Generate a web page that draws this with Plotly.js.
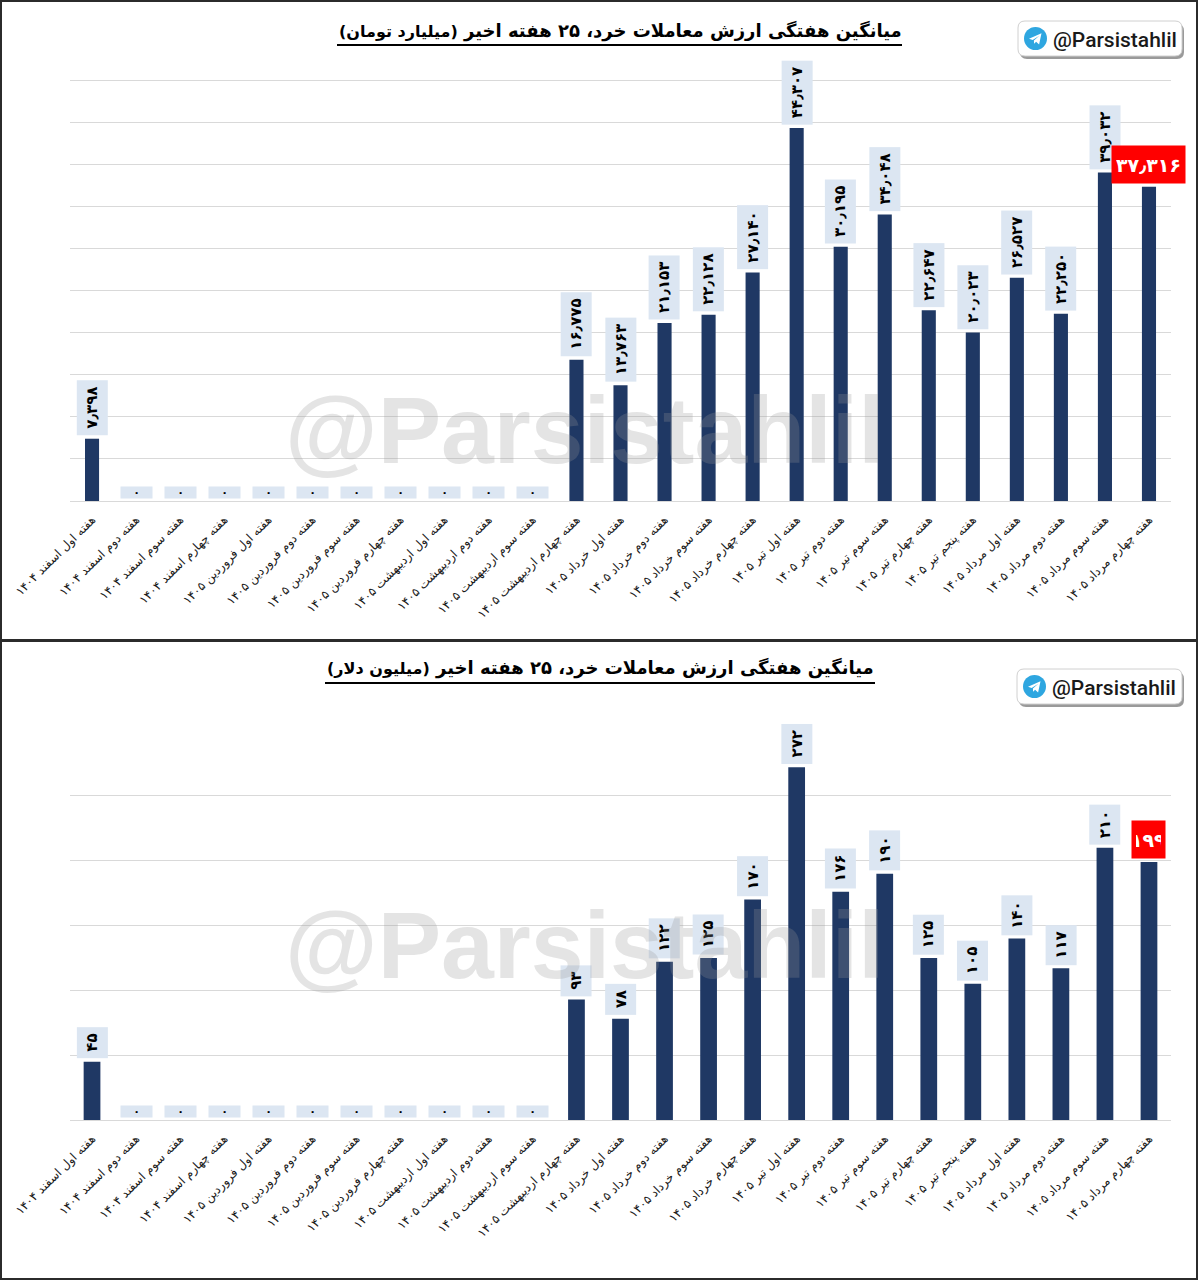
<!DOCTYPE html>
<html>
<head>
<meta charset="utf-8">
<script src="https://cdn.plot.ly/plotly-3.0.1.min.js"></script>
<style>
  html, body { margin: 0; padding: 0; background: #ffffff; }
  #chart { width: 1198px; height: 1280px; }
</style>
</head>
<body>
<div id="chart"></div>
<script>
// ---------------- DATA ----------------
var categories = [
  "هفته اول اسفند ۱۴۰۴",
  "هفته دوم اسفند ۱۴۰۴",
  "هفته سوم اسفند ۱۴۰۴",
  "هفته چهارم اسفند ۱۴۰۴",
  "هفته اول فروردین ۱۴۰۵",
  "هفته دوم فروردین ۱۴۰۵",
  "هفته سوم فروردین ۱۴۰۵",
  "هفته چهارم فروردین ۱۴۰۵",
  "هفته اول اردیبهشت ۱۴۰۵",
  "هفته دوم اردیبهشت ۱۴۰۵",
  "هفته سوم اردیبهشت ۱۴۰۵",
  "هفته چهارم اردیبهشت ۱۴۰۵",
  "هفته اول خرداد ۱۴۰۵",
  "هفته دوم خرداد ۱۴۰۵",
  "هفته سوم خرداد ۱۴۰۵",
  "هفته چهارم خرداد ۱۴۰۵",
  "هفته اول تیر ۱۴۰۵",
  "هفته دوم تیر ۱۴۰۵",
  "هفته سوم تیر ۱۴۰۵",
  "هفته چهارم تیر ۱۴۰۵",
  "هفته پنجم تیر ۱۴۰۵",
  "هفته اول مرداد ۱۴۰۵",
  "هفته دوم مرداد ۱۴۰۵",
  "هفته سوم مرداد ۱۴۰۵",
  "هفته چهارم مرداد ۱۴۰۵"
];

// weekly average value, billion toman
var tomanValues = [7.398, 0, 0, 0, 0, 0, 0, 0, 0, 0, 0,
  16.775, 13.763, 21.153, 22.128, 27.140, 44.307, 30.195, 34.048,
  22.647, 20.023, 26.527, 22.250, 39.032, 37.316];

// weekly average value, million dollars
var dollarValues = [45, 0, 0, 0, 0, 0, 0, 0, 0, 0, 0,
  93, 78, 122, 125, 170, 272, 176, 190,
  125, 105, 140, 117, 210, 199];

var tomanTickVals = [0, 5, 10, 15, 20, 25, 30, 35, 40, 45, 50];
var dollarTickVals = [0, 50, 100, 150, 200, 250];

var titleTop = "میانگین هفتگی ارزش معاملات خرد، ۲۵ هفته اخیر";
var unitTop = "(میلیارد تومان)";
var titleBottom = "میانگین هفتگی ارزش معاملات خرد، ۲۵ هفته اخیر";
var unitBottom = "(میلیون دلار)";
var brand = "@Parsistahlil";

// ---------------- HELPERS ----------------
var W = 1198, H = 1280, ML = 70, MR = 27;
var PW = W - ML - MR;
function px(x) { return (x - ML) / PW; }
function py(y) { return 1 - y / H; }
var faDigits = "۰۱۲۳۴۵۶۷۸۹";
function toFa(s) { return String(s).replace(/[0-9]/g, function (d) { return faDigits[+d]; }).replace(".", "٫"); }

var NAVY = "#1f3864";
var LBLUE = "#dce6f2";
var RED = "#ff0000";
var FA_FONT = "DejaVu Sans, Noto Sans, sans-serif";

function barAnnotations(values, xref, yref, decimals, hiW) {
  var out = [];
  var last = values.length - 1;
  values.forEach(function (v, i) {
    var txt = toFa(decimals ? v.toFixed(decimals) : String(v));
    if (v === 0) {
      out.push({ xref: xref, yref: yref, x: categories[i], y: 0, yanchor: "bottom", xanchor: "center",
        yshift: 2, text: "<b>۰</b>", showarrow: false, bgcolor: LBLUE, width: 31, height: 11, borderpad: 0,
        font: { family: FA_FONT, size: 11, color: "#000" } });
    } else if (i === last) {
      out.push({ xref: xref, yref: yref, x: categories[i], y: v, yanchor: "bottom", xanchor: "center",
        yshift: 3, text: "<b>" + txt + "</b>", showarrow: false, bgcolor: RED, borderpad: 4,
        width: hiW, height: 29,
        font: { family: FA_FONT, size: 19, color: "#ffffff" } });
    } else {
      out.push({ xref: xref, yref: yref, x: categories[i], y: v, yanchor: "bottom", xanchor: "center",
        yshift: 3, textangle: -90, text: "<b>" + txt + "</b>", showarrow: false, bgcolor: LBLUE, borderpad: 6,
        font: { family: FA_FONT, size: 15, color: "#000" } });
    }
  });
  return out;
}

function rrect(x0, y0, x1, y1, r) {
  function P(x, y) { return px(x) + "," + py(y); }
  return "M" + P(x0 + r, y0) + " L" + P(x1 - r, y0) + " Q" + P(x1, y0) + " " + P(x1, y0 + r) +
    " L" + P(x1, y1 - r) + " Q" + P(x1, y1) + " " + P(x1 - r, y1) +
    " L" + P(x0 + r, y1) + " Q" + P(x0, y1) + " " + P(x0, y1 - r) +
    " L" + P(x0, y0 + r) + " Q" + P(x0, y0) + " " + P(x0 + r, y0) + " Z";
}
function plane(cx, cy) {
  var pts = [[-6.5, 0.2], [6, -5.2], [3.6, 6], [0.6, 3.2], [-1.4, 5.2], [-1.6, 2], [3.8, -2.8], [-2.8, 1.4]];
  return "M" + pts.map(function (p) { return px(cx + p[0]) + "," + py(cy + p[1]); }).join(" L") + " Z";
}

function badge(x0, y0, x1, y1) {
  var cy = (y0 + y1) / 2;
  return {
    shapes: [
      { type: "path", xref: "paper", yref: "paper", path: rrect(x0 + 2, y0 + 3, x1 + 2, y1 + 3, 7),
        fillcolor: "#9a9a9a", line: { width: 0 }, layer: "above" },
      { type: "path", xref: "paper", yref: "paper", path: rrect(x0, y0, x1, y1, 7),
        fillcolor: "#ffffff", line: { color: "#d0d0d0", width: 1 }, layer: "above" },
      { type: "circle", xref: "paper", yref: "paper", x0: px(x0 + 6), x1: px(x0 + 29), y0: py(cy - 11.5), y1: py(cy + 11.5),
        fillcolor: "#2ea6e0", line: { width: 0 }, layer: "above" },
      { type: "path", xref: "paper", yref: "paper", path: plane(x0 + 17.5, cy),
        fillcolor: "#ffffff", line: { width: 0 }, layer: "above" }
    ],
    ann: { xref: "paper", yref: "paper", x: px(x0 + 33), y: py(cy + 1), xanchor: "left", yanchor: "middle",
      text: brand, showarrow: false, font: { family: "Roboto, Liberation Sans, Arial", size: 21, color: "#1a1a1a", weight: 500 } }
  };
}

// ---------------- TRACES ----------------
var traces = [
  { type: "bar", x: categories, y: tomanValues, xaxis: "x", yaxis: "y", marker: { color: NAVY },
    width: 0.32, hoverinfo: "skip" },
  { type: "bar", x: categories, y: dollarValues, xaxis: "x2", yaxis: "y2", marker: { color: NAVY },
    width: 0.38, hoverinfo: "skip" }
];

var b1 = badge(1018, 21, 1182, 56);
var b2 = badge(1017, 669, 1182, 704);

var annotations = []
  .concat(barAnnotations(tomanValues, "x", "y", 3, 65))
  .concat(barAnnotations(dollarValues, "x2", "y2", 0, 25));

annotations.push(
  { xref: "paper", yref: "paper", x: px(585), y: py(430), text: "<b>" + brand + "</b>", showarrow: false,
    font: { family: "Liberation Sans, Arial", size: 95, color: "rgba(150,150,150,0.26)" } },
  { xref: "paper", yref: "paper", x: px(585), y: py(1000), text: "<b>" + brand + "</b>", showarrow: false,
    font: { family: "Liberation Sans, Arial", size: 95, color: "rgba(150,150,150,0.26)" } },
  { xref: "paper", yref: "paper", x: px(620), y: py(31), xanchor: "center", yanchor: "middle", showarrow: false,
    text: "<b>" + titleTop + " <span style='font-size:16px'>" + unitTop + "</span></b>\u200F",
    font: { family: FA_FONT, size: 18, color: "#000" } },
  { xref: "paper", yref: "paper", x: px(600), y: py(668), xanchor: "center", yanchor: "middle", showarrow: false,
    text: "<b>" + titleBottom + " <span style='font-size:16px'>" + unitBottom + "</span></b>\u200F",
    font: { family: FA_FONT, size: 18, color: "#000" } },
  b1.ann, b2.ann
);

var shapes = [
  { type: "rect", xref: "paper", yref: "paper", x0: px(1), x1: px(1197), y0: py(1), y1: py(640),
    line: { color: "#2b2b2b", width: 2 }, layer: "above" },
  { type: "rect", xref: "paper", yref: "paper", x0: px(1), x1: px(1197), y0: py(641), y1: py(1279),
    line: { color: "#2b2b2b", width: 2 }, layer: "above" },
  { type: "line", xref: "paper", yref: "paper", x0: px(337), x1: px(902), y0: py(45), y1: py(45),
    line: { color: "#000", width: 2 } },
  { type: "line", xref: "paper", yref: "paper", x0: px(325), x1: px(875), y0: py(683), y1: py(683),
    line: { color: "#000", width: 2 } }
].concat(b1.shapes).concat(b2.shapes);

var xaxisBase = {
  type: "category", range: [-0.5, categories.length - 0.5], autorange: false,
  tickangle: -45, showgrid: false, zeroline: false,
  showline: true, linecolor: "#d9d9d9", linewidth: 1, ticks: "", ticklabelstandoff: 6,
  tickfont: { family: FA_FONT, size: 12, color: "#1a1a1a" }, fixedrange: true
};

var layout = {
  width: W, height: H,
  margin: { l: ML, r: MR, t: 0, b: 0 },
  paper_bgcolor: "#ffffff", plot_bgcolor: "#ffffff",
  showlegend: false,
  xaxis: Object.assign({}, xaxisBase, { anchor: "y" }),
  xaxis2: Object.assign({}, xaxisBase, { anchor: "y2" }),
  yaxis: { domain: [py(501), py(38)], range: [0, 55], autorange: false, tickvals: tomanTickVals, showticklabels: false,
    gridcolor: "#d9d9d9", gridwidth: 1, zeroline: false, fixedrange: true },
  yaxis2: { domain: [py(1120), py(731)], range: [0, 300], autorange: false, tickvals: dollarTickVals, showticklabels: false,
    gridcolor: "#d9d9d9", gridwidth: 1, zeroline: false, fixedrange: true },
  annotations: annotations,
  shapes: shapes
};

Plotly.newPlot("chart", traces, layout, { displayModeBar: false, staticPlot: true });
</script>
</body>
</html>
